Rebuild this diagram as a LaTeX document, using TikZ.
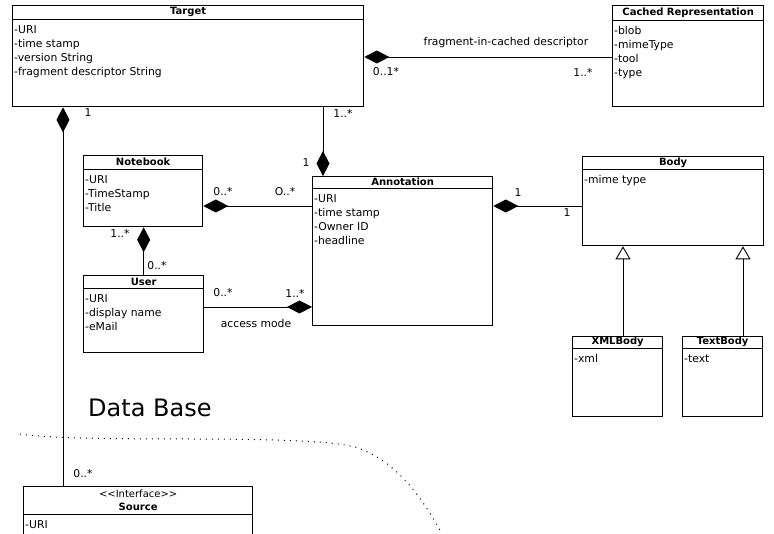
\documentclass[tikz,border=0pt]{standalone}
\usepackage{fontspec}
\setmainfont{DejaVu Sans}
\usetikzlibrary{arrows.meta,positioning}

\begin{document}
\begin{tikzpicture}[x=1pt,y=-1pt,
    classbox/.style={draw,line width=1.3pt,fill=white,anchor=north west,inner sep=0pt},
    classtitle/.style={anchor=north,inner sep=0pt,minimum height=14pt,font=\fontsize{10}{11}\selectfont\bfseries},
    classrule/.style={line width=1.3pt},
    attrs/.style={anchor=north west,align=left,inner xsep=2pt,inner ysep=6pt,font=\fontsize{10.8}{14}\selectfont},
    comp/.style={line width=0.9pt,-{Diamond[length=25pt,width=13pt]}},
    inherit/.style={line width=0.9pt,-{Triangle[open,length=13pt,width=15pt]}},
    lbl/.style={inner sep=0pt,font=\fontsize{10.8}{12}\selectfont}]
    \useasboundingbox (0,0) rectangle (774,534);
    \clip (0,0) rectangle (774,534);

    \node[classbox,minimum width=351pt,minimum height=101pt] (target) at (12,5) {};
    \node[classtitle] (targettitle) at (target.north) {Target};
    \draw[classrule] (target.west |- targettitle.south) -- (target.east |- targettitle.south);
    \node[attrs] (targetattrs) at (target.west |- targettitle.south) {-URI\\-time stamp\\-version String\\-fragment descriptor String};

    \node[classbox,minimum width=151pt,minimum height=101pt] (cached) at (612,5) {};
    \node[classtitle,minimum height=15pt] (cachedtitle) at (cached.north) {Cached Representation};
    \draw[classrule] (cached.west |- cachedtitle.south) -- (cached.east |- cachedtitle.south);
    \node[attrs] (cachedattrs) at (cached.west |- cachedtitle.south) {-blob\\-mimeType\\-tool\\-type};

    \node[classbox,minimum width=119pt,minimum height=71pt] (notebook) at (83,155) {};
    \node[classtitle] (notebooktitle) at (notebook.north) {Notebook};
    \draw[classrule] (notebook.west |- notebooktitle.south) -- (notebook.east |- notebooktitle.south);
    \node[attrs] (notebookattrs) at (notebook.west |- notebooktitle.south) {-URI\\-TimeStamp\\-Title};

    \node[classbox,minimum width=120pt,minimum height=77pt] (user) at (83,275) {};
    \node[classtitle,minimum height=13pt] (usertitle) at (user.north) {User};
    \draw[classrule] (user.west |- usertitle.south) -- (user.east |- usertitle.south);
    \node[attrs] (userattrs) at (user.west |- usertitle.south) {-URI\\-display name\\-eMail};

    \node[classbox,minimum width=180pt,minimum height=149pt] (annotation) at (312,176) {};
    \node[classtitle,minimum height=12pt] (annotationtitle) at (annotation.north) {Annotation};
    \draw[classrule] (annotation.west |- annotationtitle.south) -- (annotation.east |- annotationtitle.south);
    \node[attrs] (annotationattrs) at (annotation.west |- annotationtitle.south) {-URI\\-time stamp\\-Owner ID\\-headline};

    \node[classbox,minimum width=181pt,minimum height=89pt] (body) at (582,156) {};
    \node[classtitle,minimum height=13pt] (bodytitle) at (body.north) {Body};
    \draw[classrule] (body.west |- bodytitle.south) -- (body.east |- bodytitle.south);
    \node[attrs] (bodyattrs) at (body.west |- bodytitle.south) {-mime type};

    \node[classbox,minimum width=90pt,minimum height=80pt] (xmlbody) at (572,336) {};
    \node[classtitle,minimum height=12pt] (xmlbodytitle) at (xmlbody.north) {XMLBody};
    \draw[classrule] (xmlbody.west |- xmlbodytitle.south) -- (xmlbody.east |- xmlbodytitle.south);
    \node[attrs] (xmlbodyattrs) at (xmlbody.west |- xmlbodytitle.south) {-xml};

    \node[classbox,minimum width=80pt,minimum height=80pt] (textbody) at (682,336) {};
    \node[classtitle,minimum height=12pt] (textbodytitle) at (textbody.north) {TextBody};
    \draw[classrule] (textbody.west |- textbodytitle.south) -- (textbody.east |- textbodytitle.south);
    \node[attrs] (textbodyattrs) at (textbody.west |- textbodytitle.south) {-text};

    \node[classbox,minimum width=229pt,minimum height=80pt] (source) at (23,486) {};
    \node[classtitle,minimum height=28pt,align=center,font=\fontsize{10}{13.5}\selectfont\bfseries] (sourcetitle) at (source.north) {{\mdseries <{}<Interface>{}>}\\Source};
    \draw[classrule] (source.west |- sourcetitle.south) -- (source.east |- sourcetitle.south);
    \node[attrs] (sourceattrs) at (source.west |- sourcetitle.south) {-URI};

    \draw[comp] (cached.west |- 0,57) -- (target.east |- 0,57);
    \node[lbl] (fragmentlbl) at (506,43) {fragment-in-cached descriptor};
    \node[lbl] (cachedmulta) at (386,72) {0..1*};
    \node[lbl] (cachedmultb) at (583,72) {1..*};

    \draw[comp] (source.north -| 63,0) -- (target.south -| 63,0);
    \node[lbl] (sourcemulta) at (88,113) {1};
    \node[lbl] (sourcemultb) at (83,474) {0..*};

    \draw[comp] (target.south -| 323,0) -- (annotation.north -| 323,0);
    \node[lbl] (annotmulta) at (343,113) {1..*};
    \node[lbl] (annotmultb) at (306,163) {1};

    \draw[comp] (annotation.west |- 0,206) -- (notebook.east |- 0,206);
    \node[lbl] (notebookmulta) at (223,192) {0..*};
    \node[lbl] (notebookmultb) at (285,192) {O..*};

    \draw[comp] (user.north) -- (notebook.south -| user.north);
    \node[lbl] (usermulta) at (120,233) {1..*};
    \node[lbl] (usermultb) at (157,266) {0..*};

    \draw[comp] (user.east |- 0,307) -- (annotation.west |- 0,307);
    \node[lbl] (accessmulta) at (223,293) {0..*};
    \node[lbl] (accessmultb) at (295,293) {1..*};
    \node[lbl] (accesslbl) at (256,323) {access mode};

    \draw[comp] (body.west |- 0,206) -- (annotation.east |- 0,206);
    \node[lbl] (bodymulta) at (518,193) {1};
    \node[lbl] (bodymultb) at (567,213) {1};

    \draw[inherit] (xmlbody.north -| 623,0) -- (body.south -| 623,0);
    \draw[inherit] (textbody.north -| 743,0) -- (body.south -| 743,0);

    \node[inner sep=0pt,anchor=west,font=\fontsize{24}{28}\selectfont] (database) at (88,408) {Data Base};
    \draw[line width=1pt,dash pattern=on 1pt off 5pt] (20,434) .. controls (90,444) and (300,433) .. (355,447) .. controls (395,460) and (422,495) .. (448,545);
\end{tikzpicture}
\end{document}
